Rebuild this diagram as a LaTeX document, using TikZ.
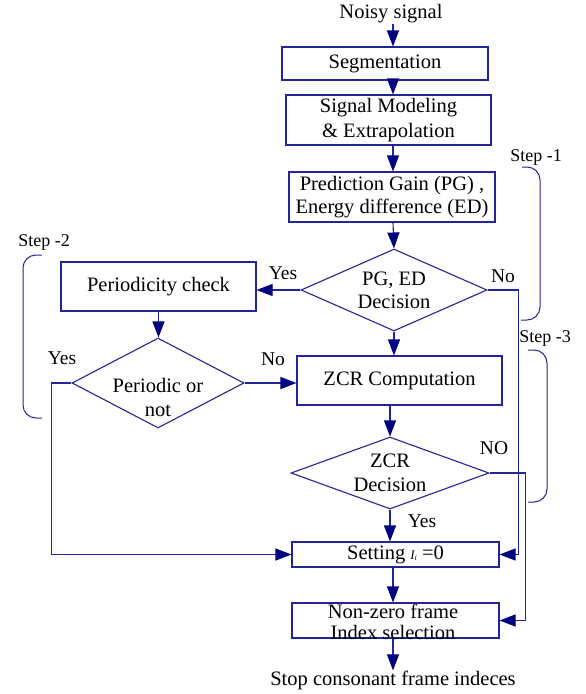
\documentclass[tikz,border=0pt]{standalone}
\usepackage{fontspec}
\setmainfont{Liberation Serif}
\newfontfamily\tms{Liberation Serif}
\usetikzlibrary{arrows.meta,shapes.geometric}
\definecolor{lc}{RGB}{35,35,155}
\definecolor{hc}{RGB}{0,0,128}
\begin{document}
\begin{tikzpicture}[x=1pt,y=-1pt,
  every node/.style={font=\tms\fontsize{20.5}{24}\selectfont, text=black},
  box/.style={draw=lc, line width=1.1pt, inner sep=0pt, align=center},
  dia/.style={draw=lc, line width=1.1pt, shape=diamond, inner sep=0pt},
  conn/.style={draw=lc, line width=1.1pt},
  arr/.style={conn, -{Triangle[length=16pt,width=12pt,color=hc]}},
  txt/.style={align=center, inner sep=0pt},
  lbl/.style={font=\tms\fontsize{19.5}{22}\selectfont, inner sep=0pt},
  steplbl/.style={font=\tms\fontsize{18}{20}\selectfont, inner sep=0pt},
  brace/.style={draw=lc, line width=1pt, rounded corners=13pt}]
\useasboundingbox (0,0) rectangle (586,694);
\coordinate (sp) at (393,0);

\node[txt] (in) at (391,14) {Noisy signal};
\node[box, minimum width=206pt, minimum height=33pt] (seg) at (385,63.5) {Segmentation};
\node[box, minimum width=205pt, minimum height=50pt, font=\tms\fontsize{20.5}{25}\selectfont] (mod) at (388.5,120) {Signal Modeling\\\& Extrapolation};
\node[box, minimum width=206pt, minimum height=50pt, font=\tms\fontsize{20.5}{23}\selectfont] (pg) at (392,197) {Prediction Gain (PG) ,\\Energy difference (ED)};
\node[dia, minimum width=186pt, minimum height=82pt] (d1) at (394,290) {};
\node[txt, font=\tms\fontsize{20.5}{23}\selectfont] (t1) at (394,290) {PG, ED\\Decision};
\node[box, minimum width=195pt, minimum height=49pt] (per) at (158.5,286.5) {Periodicity check};
\node[dia, minimum width=172pt, minimum height=90pt] (d2) at (158,383) {};
\node[txt, font=\tms\fontsize{20.5}{24}\selectfont] (t2) at (158,397) {Periodic or\\not};
\node[box, minimum width=205pt, minimum height=49pt] (zcr) at (399.5,380.5) {ZCR Computation};
\node[dia, minimum width=198pt, minimum height=72pt] (d3) at (390,473) {};
\node[txt, font=\tms\fontsize{20.5}{24}\selectfont] (t3) at (390,473) {ZCR\\Decision};
\node[box, minimum width=207pt, minimum height=25pt] (set) at (395.5,554.5) {Setting {\fontsize{13}{13}\selectfont\itshape I\raisebox{-1.5pt}{\fontsize{8}{8}\selectfont i}} =0};
\node[box, minimum width=207pt, minimum height=35pt] (nz) at (395.5,620.5) {};
\node[txt, font=\tms\fontsize{20.5}{21}\selectfont] (t4) at (393,621.5) {Non-zero frame\\Index selection};
\node[txt] (out) at (393,680) {Stop consonant frame indeces};

% main arrows
\draw[arr] (in.south -| sp) -- (seg.north -| sp);
\draw[arr] (seg.south -| sp) -- (mod.north -| sp);
\draw[arr] (mod.south -| sp) -- (pg.north -| sp);
\draw[arr] (pg.south -| sp) -- (d1.north);
\draw[arr] (d1.south) -- (d1.south |- zcr.north);
\draw[arr] (d1.west) -- (d1.west -| per.east);
\draw[arr] (per.south) -- (per.south |- d2.north);
\draw[arr] (d2.east) -- (d2.east -| zcr.west);
\draw[arr] (d3.north |- zcr.south) -- (d3.north);
\draw[arr] (d3.south) -- (d3.south |- set.north);
\draw[arr] (set.south -| sp) -- (nz.north -| sp);
\draw[arr] (nz.south -| sp) -- (out.north -| sp);

% side branches
\draw[arr] (d1.east) -| ([xshift=19pt]set.east) -- (set.east);
\draw[arr] (d3.east) -| ([xshift=26pt]nz.east) -- (nz.east);
\draw[arr] (d2.west) -| ([xshift=-240pt]set.west) -- (set.west);

% labels
\node[lbl] (y1) at (283,273) {Yes};
\node[lbl] (n1) at (503,276) {No};
\node[lbl] (y2) at (62,358) {Yes};
\node[lbl] (n2) at (273,359) {No};
\node[lbl] (n3) at (494,448) {NO};
\node[lbl] (y3) at (422,521) {Yes};

% steps
\node[steplbl] (s1) at (536,157) {Step -1};
\node[steplbl] (s2) at (44,242) {Step -2};
\node[steplbl] (s3) at (545,338) {Step -3};
\draw[brace] (522,167) -| (540,320) -- (521,320);
\draw[brace] (42,255) -| (23,418) -- (42,418);
\draw[brace] (528,350) -| (547,502) -- (528,502);
\end{tikzpicture}
\end{document}
